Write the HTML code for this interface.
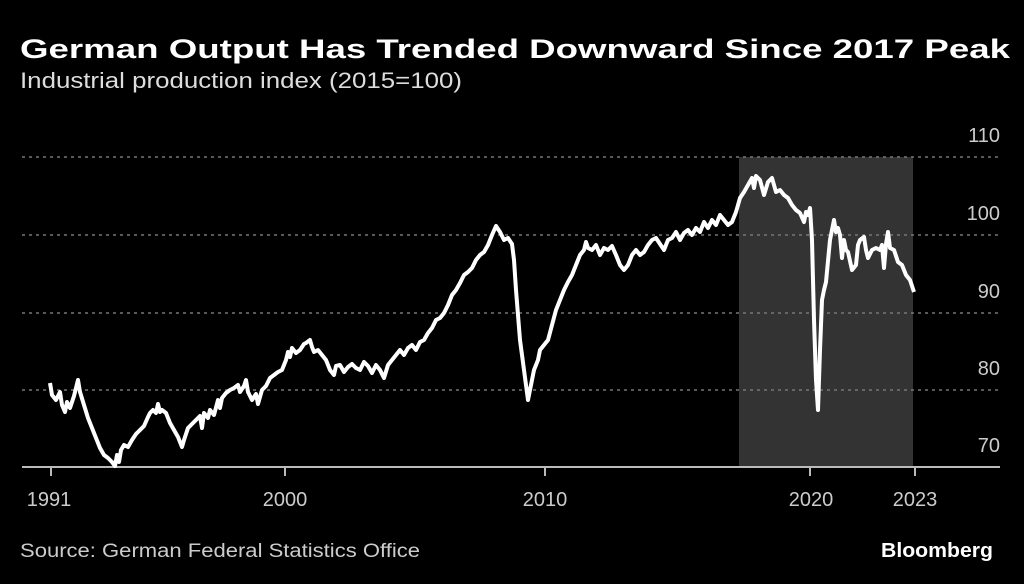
<!DOCTYPE html>
<html><head><meta charset="utf-8"><style>
body{margin:0;background:#000;width:1024px;height:584px;overflow:hidden;font-family:"Liberation Sans",sans-serif;color:#fff}
</style></head><body>
<svg width="1024" height="584" xmlns="http://www.w3.org/2000/svg" style="position:absolute;left:0;top:0">
<text x="20" y="58" font-size="27" font-weight="bold" fill="#fff" font-family="Liberation Sans" textLength="990" lengthAdjust="spacingAndGlyphs">German Output Has Trended Downward Since 2017 Peak</text>
<text x="20" y="88" font-size="22" fill="#ddd" font-family="Liberation Sans" textLength="442" lengthAdjust="spacingAndGlyphs">Industrial production index (2015=100)</text>
<rect x="739" y="157" width="174" height="310" fill="#333"/>
<g stroke="#777" stroke-width="1.5" stroke-dasharray="3,4">
<line x1="22" y1="157" x2="1000" y2="157"/><line x1="22" y1="235" x2="1000" y2="235"/>
<line x1="22" y1="313" x2="1000" y2="313"/><line x1="22" y1="390" x2="1000" y2="390"/>
</g>
<g font-size="20" fill="#ccc" text-anchor="end" font-family="Liberation Sans">
<text x="1000" y="142">110</text><text x="1000" y="220">100</text><text x="1000" y="298">90</text><text x="1000" y="375">80</text><text x="1000" y="452">70</text>
</g>
<line x1="22" y1="467" x2="1000" y2="467" stroke="#bbb" stroke-width="2"/>
<g stroke="#bbb" stroke-width="2"><line x1="51" y1="467" x2="51" y2="476"/><line x1="285" y1="467" x2="285" y2="476"/><line x1="545" y1="467" x2="545" y2="476"/><line x1="810" y1="467" x2="810" y2="476"/><line x1="915" y1="467" x2="915" y2="476"/></g>
<g font-size="20" fill="#ccc" text-anchor="middle" font-family="Liberation Sans">
<text x="49" y="506">1991</text><text x="285" y="506">2000</text><text x="545" y="506">2010</text><text x="811" y="506">2020</text><text x="915" y="506">2023</text>
</g>
<polyline fill="none" stroke="#fff" stroke-width="4" stroke-linejoin="round" points="50,383 52,395 56,400 60,392 62,405 65,412 67,402 70,408 74,396 78,380 80,392 84,405 88,418 92,428 96,438 100,448 104,455 108,458 112,462 115,466 117,455 119,462 121,450 124,445 128,447 132,440 136,434 140,430 144,426 148,417 150,413 153,410 156,413 158,404 160,412 162,410 166,413 170,423 174,430 178,437 182,447 184,440 188,428 192,424 196,420 200,416 202,428 204,413 208,418 210,410 214,415 218,400 220,408 222,398 226,393 230,390 234,388 238,385 240,392 244,386 246,380 248,392 252,400 256,394 258,404 262,390 266,386 270,378 274,375 278,372 282,370 286,360 288,352 290,357 292,348 296,353 300,350 304,344 306,343 310,340 312,347 314,352 318,350 322,355 326,360 330,370 334,375 336,366 340,365 344,372 348,367 352,364 356,368 360,370 364,362 368,366 372,373 376,365 380,370 384,378 388,365 392,360 396,355 400,350 404,355 408,348 412,345 416,350 420,342 424,340 428,333 432,328 436,320 440,318 444,313 448,305 452,295 456,290 460,283 464,275 468,272 472,268 476,260 480,255 484,252 488,245 492,235 496,226 500,232 504,240 508,238 512,244 514,260 516,290 520,340 524,370 528,400 530,390 534,370 538,360 540,350 544,345 548,340 552,325 556,310 560,300 564,290 568,282 572,275 576,265 580,255 584,250 586,242 588,248 592,250 596,245 600,255 604,248 608,250 612,246 616,255 620,265 624,270 628,265 632,255 636,250 640,255 644,252 648,245 652,240 656,238 660,244 664,250 668,240 672,238 676,232 680,240 684,233 688,230 692,235 696,228 700,232 704,222 708,228 712,220 716,225 720,215 724,220 728,225 732,222 736,212 740,198 744,192 748,185 752,178 754,188 756,176 760,180 764,195 768,182 772,178 776,192 780,190 784,195 788,198 792,205 796,210 800,213 804,222 806,212 808,215 810,208 812,240 814,320 816,380 818,410 820,350 822,300 824,290 826,282 830,240 834,220 836,232 838,228 840,235 842,258 844,240 846,250 848,252 852,270 856,265 858,245 860,240 864,237 866,250 868,258 872,250 876,248 880,250 882,245 884,268 886,244 888,232 890,248 894,250 898,262 902,265 906,275 910,280 914,292"/>
<text x="20" y="557" font-size="19" fill="#ccc" font-family="Liberation Sans" textLength="400" lengthAdjust="spacingAndGlyphs">Source: German Federal Statistics Office</text>
<text x="993" y="557" font-size="20" font-weight="bold" fill="#fff" text-anchor="end" font-family="Liberation Sans" textLength="112" lengthAdjust="spacingAndGlyphs">Bloomberg</text>
</svg>
</body></html>
